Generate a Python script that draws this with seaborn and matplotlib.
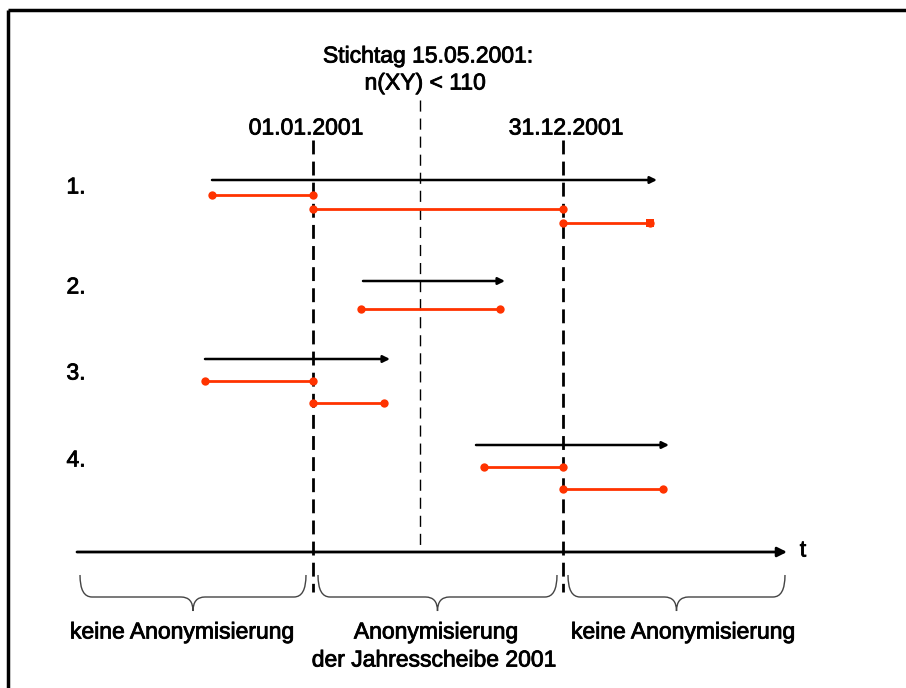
import numpy as np
import pandas as pd
import seaborn as sns
import matplotlib.pyplot as plt
import matplotlib.patheffects as pe
from matplotlib.path import Path
from matplotlib.patches import PathPatch

sns.set_theme(style="white")
plt.rcParams["font.family"] = ["Liberation Sans", "DejaVu Sans"]
plt.rcParams["text.color"] = "black"

# ---- data (timeline in drawing units) ----
row_labels = ["1.", "2.", "3.", "4."]
row_label_y = [187, 287, 373, 460]

# black arrows: overall duration of each case
arrow_start = [212, 363, 205, 476]
arrow_end = [657, 505, 390, 669]
arrow_y = [180, 281, 359, 445]

# red pieces after splitting at year boundaries
seg_row = [1, 1, 1, 2, 3, 3, 4, 4]
seg_start = [212, 313, 563, 361, 205, 313, 484, 563]
seg_end = [313, 563, 650, 500, 313, 384, 563, 663]
seg_y = [195, 209, 223, 309, 381, 403, 467, 489]

year_start, year_end, stichtag = 313, 563, 420
date_labels = ["01.01.2001", "31.12.2001"]
stichtag_lines = ["Stichtag 15.05.2001:", "n(XY) < 110"]

axis_start, axis_end, axis_y = 77, 787, 552
brace_ranges = [(80, 306), (318, 557), (568, 785)]
brace_labels = [["keine Anonymisierung"],
                ["Anonymisierung", "der Jahresscheibe 2001"],
                ["keine Anonymisierung"]]
brace_label_x = [182, 436, 683]

red = "#FF3300"
fs = 16.5
heavy = [pe.withStroke(linewidth=0.6, foreground="black")]

segs = pd.DataFrame({"seg": list(range(len(seg_row))) * 2,
                     "x": seg_start + seg_end,
                     "y": seg_y * 2})

fig, ax = plt.subplots(figsize=(9.06, 6.88), dpi=100)
fig.subplots_adjust(0, 0, 1, 1)
ax.set_xlim(0, 906)
ax.set_ylim(688, 0)
ax.axis("off")

# frame (only left and top visible)
ax.plot([8, 8], [688, 10], color="black", lw=2.5, solid_capstyle="butt")
ax.plot([8, 906], [10, 10], color="black", lw=2.5, solid_capstyle="butt")

# dashed reference lines
for xv in (year_start, year_end):
    ax.plot([xv, xv], [140, 592], color="black", lw=2, dashes=(5, 2.6))
ax.plot([stichtag, stichtag], [100, axis_y], color="black", lw=1, dashes=(8, 5))

# time axis
ax.annotate("", xy=(axis_end, axis_y), xytext=(axis_start, axis_y),
            arrowprops=dict(arrowstyle="-|>", lw=2, color="black",
                            mutation_scale=14, shrinkA=0, shrinkB=0))
ax.text(803, axis_y - 2, "t", fontsize=fs, ha="center", va="center",
        path_effects=heavy)

# case arrows
for x0, x1, yv in zip(arrow_start, arrow_end, arrow_y):
    ax.annotate("", xy=(x1, yv), xytext=(x0, yv),
                arrowprops=dict(arrowstyle="-|>", lw=1.8, color="black",
                                mutation_scale=10, shrinkA=0, shrinkB=0))

# red segments
sns.lineplot(data=segs, x="x", y="y", units="seg", estimator=None, sort=False,
             color=red, lw=2, marker="o", markersize=6, markeredgewidth=0, ax=ax)
ax.plot([seg_end[2]], [seg_y[2]], "s", color=red, ms=6, mew=0)

for lab, yv in zip(row_labels, row_label_y):
    ax.text(76, yv, lab, fontsize=fs, ha="center", va="center",
            path_effects=heavy)

for xv, lab in zip((306, 566), date_labels):
    ax.text(xv, 128, lab, fontsize=fs, ha="center", va="center",
            path_effects=heavy)
for i, lab in enumerate(stichtag_lines):
    ax.text(428 - 3 * i, 56 + 27 * i, lab, fontsize=fs, ha="center",
            va="center", path_effects=heavy)


def brace(x0, x1, ytop=575, ymid=597, ytip=611):
    xm = (x0 + x1) / 2
    r = 12
    verts = [(x0, ytop), (x0, ymid), (x0 + r, ymid),
             (xm - r, ymid), (xm, ymid), (xm, ytip),
             (xm, ymid), (xm + r, ymid),
             (x1 - r, ymid), (x1, ymid), (x1, ytop)]
    codes = [Path.MOVETO, Path.CURVE3, Path.CURVE3,
             Path.LINETO, Path.CURVE3, Path.CURVE3,
             Path.CURVE3, Path.CURVE3,
             Path.LINETO, Path.CURVE3, Path.CURVE3]
    ax.add_patch(PathPatch(Path(verts, codes), fill=False, lw=1, color="#444444"))


for (x0, x1), lines, lx in zip(brace_ranges, brace_labels, brace_label_x):
    brace(x0, x1)
    for i, lab in enumerate(lines):
        ax.text(lx - 2 * i, 632 + 28 * i, lab, fontsize=fs,
                ha="center", va="center", path_effects=heavy)

fig.savefig("out.png", dpi=100)
